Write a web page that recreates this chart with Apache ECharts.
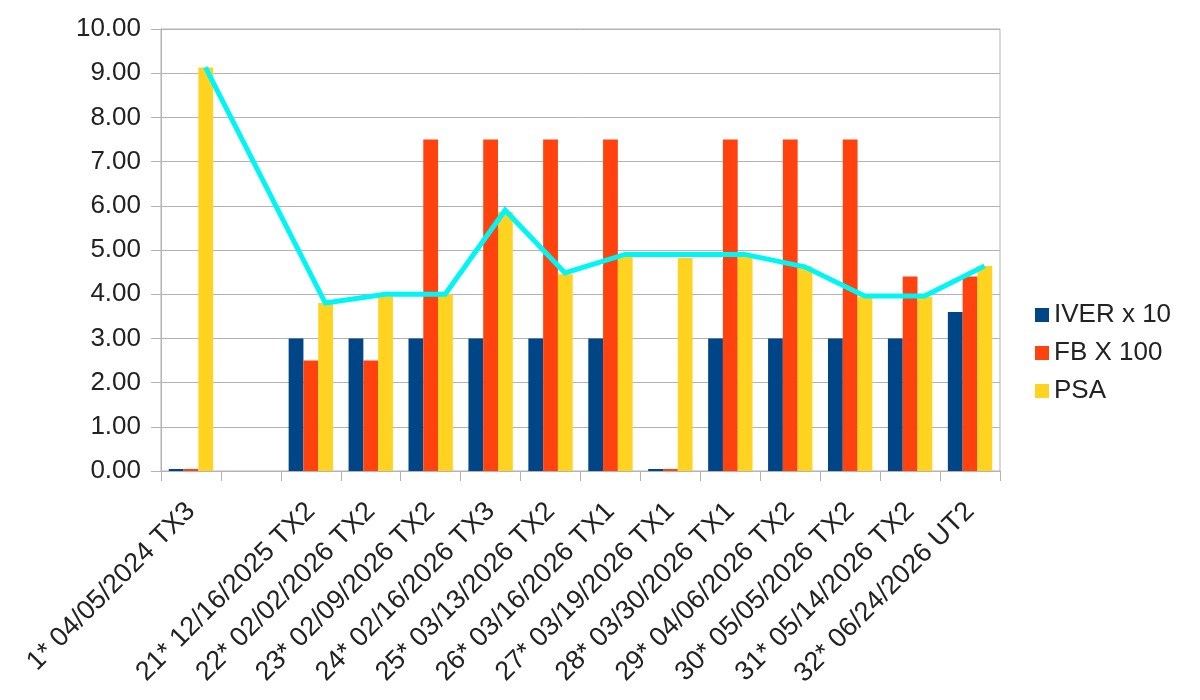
<!DOCTYPE html>
<html>
<head>
<meta charset="utf-8">
<script src="https://cdn.jsdelivr.net/npm/echarts@6/dist/echarts.min.js"></script>
<style>
  html, body { margin: 0; padding: 0; background: #fff; }
  #chart { width: 1200px; height: 700px; }
</style>
</head>
<body>
<div id="chart"></div>
<script>
// categories (slot 2 has no label in the source)
const categories = [
  '1* 04/05/2024 TX3', '',
  '21* 12/16/2025 TX2', '22* 02/02/2026 TX2', '23* 02/09/2026 TX2',
  '24* 02/16/2026 TX3', '25* 03/13/2026 TX2', '26* 03/16/2026 TX1',
  '27* 03/19/2026 TX1', '28* 03/30/2026 TX1', '29* 04/06/2026 TX2',
  '30* 05/05/2026 TX2', '31* 05/14/2026 TX2', '32* 06/24/2026 UT2'
];
const iverX10 = [0, null, 3, 3, 3, 3, 3, 3, 0, 3, 3, 3, 3, 3.6];
const fbX100  = [0, null, 2.5, 2.5, 7.5, 7.5, 7.5, 7.5, 0, 7.5, 7.5, 7.5, 4.4, 4.4];
const psa     = [9.13, null, 3.8, 3.95, 4.0, 5.86, 4.45, 4.85, 4.82, 4.85, 4.63, 3.94, 3.94, 4.64];
const trend   = [9.13, null, 3.8, 4.0, 4.0, 5.9, 4.48, 4.9, 4.9, 4.9, 4.62, 3.96, 3.96, 4.64];
const yTicks  = { min: 0, max: 10, step: 1 };

const gridColor = '#b3b3b3';
const textColor = '#222';
const fontFamily = '"Liberation Sans", Arial, sans-serif';

const chart = echarts.init(document.getElementById('chart'));

const barBase = { type: 'bar', barGap: 0, barCategoryGap: '26%', barMinHeight: 2, xAxisIndex: 0, yAxisIndex: 0 };

const option = {
  animation: false,
  textStyle: { fontFamily: fontFamily },
  legend: {
    orient: 'vertical',
    left: 1030, top: 297,
    itemWidth: 14, itemHeight: 14, itemGap: 12,
    icon: 'rect',
    data: ['IVER x 10', 'FB X 100', 'PSA'],
    textStyle: { fontSize: 26, color: textColor, fontFamily: fontFamily }
  },
  grid: [
    { left: 161, right: 200, top: 29, bottom: 229, show: true, borderColor: gridColor, borderWidth: 1 },
    // second grid shifted so the line points sit over the PSA bars
    { left: 175.5, right: 185.5, top: 29, bottom: 229 }
  ],
  xAxis: [
    {
      type: 'category', gridIndex: 0, data: categories,
      axisLine: { lineStyle: { color: gridColor } },
      axisTick: { show: true, length: 10, lineStyle: { color: gridColor } },
      axisLabel: { rotate: 45, interval: 0, margin: 36, fontSize: 27, color: textColor }
    },
    { type: 'category', gridIndex: 1, data: categories, show: false }
  ],
  yAxis: [
    {
      type: 'value', gridIndex: 0, min: yTicks.min, max: yTicks.max, interval: yTicks.step,
      axisLine: { show: true, lineStyle: { color: gridColor } },
      axisTick: { show: true, length: 10, lineStyle: { color: gridColor } },
      splitLine: { lineStyle: { color: gridColor, width: 1 } },
      axisLabel: { fontSize: 26, color: textColor, margin: 20, formatter: v => v.toFixed(2) }
    },
    { type: 'value', gridIndex: 1, min: yTicks.min, max: yTicks.max, show: false }
  ],
  series: [
    Object.assign({ name: 'IVER x 10', data: iverX10, itemStyle: { color: '#004586' } }, barBase),
    Object.assign({ name: 'FB X 100', data: fbX100, itemStyle: { color: '#ff420e' } }, barBase),
    Object.assign({ name: 'PSA', data: psa, itemStyle: { color: '#ffd320' } }, barBase),
    {
      name: 'trend', type: 'line', xAxisIndex: 1, yAxisIndex: 1,
      data: trend, connectNulls: true, showSymbol: false, z: 10,
      lineStyle: { color: '#00f5f5', width: 5, join: 'miter' }
    }
  ]
};
chart.setOption(option);
</script>
</body>
</html>
